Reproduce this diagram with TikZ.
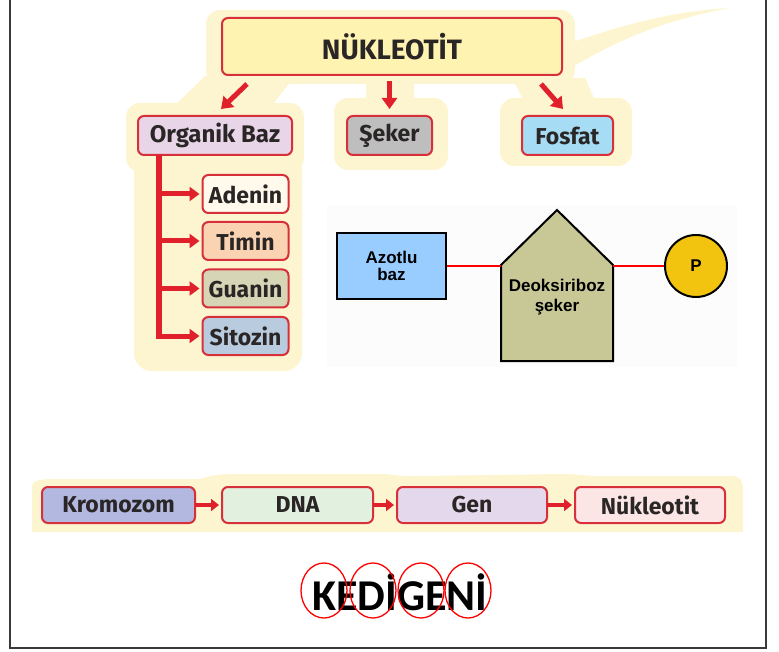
\documentclass[tikz,border=0pt]{standalone}
\usepackage{fontspec}
\setmainfont{Fira Sans}
\newfontfamily\arialfont{Liberation Sans}
\newfontfamily\calfont{Carlito}
\usetikzlibrary{arrows.meta,calc,shapes.geometric}
\definecolor{cream}{HTML}{FDF5D0}
\definecolor{boxred}{HTML}{D7303A}
\definecolor{arrred}{HTML}{E0202A}
\definecolor{txt}{HTML}{2A2626}
\definecolor{nukfill}{HTML}{FFF3B2}
\definecolor{orgfill}{HTML}{E8D5E8}
\definecolor{sekfill}{HTML}{BEBEBE}
\definecolor{fosfill}{HTML}{A6DCF4}
\definecolor{adefill}{HTML}{FFFAEC}
\definecolor{timfill}{HTML}{FAD4B2}
\definecolor{guafill}{HTML}{D6D6B6}
\definecolor{sitfill}{HTML}{B9CBDF}
\definecolor{kromfill}{HTML}{B3B8E0}
\definecolor{dnafill}{HTML}{E2F0E0}
\definecolor{genfill}{HTML}{E4D8EC}
\definecolor{nukbfill}{HTML}{FCE5E5}
\definecolor{azfill}{HTML}{99CCFF}
\definecolor{housefill}{HTML}{C8C896}
\definecolor{pfill}{HTML}{F2C40F}
\definecolor{framegray}{HTML}{3A3A3A}
\tikzset{
  cbox/.style={draw=boxred, line width=2pt, rounded corners=6pt, text=txt,
    inner sep=0pt, font=\bfseries\fontsize{23}{25}\selectfont},
  blob/.style={fill=cream, draw=none},
  bigarr/.style={draw=arrred, line width=5pt, -{Triangle[width=15pt,length=11pt]}},
  brarr/.style={draw=arrred, line width=5pt, -{Triangle[width=14pt,length=10pt]}},
  smarr/.style={draw=arrred, line width=4pt, -{Triangle[width=12pt,length=8pt]}},
  redcon/.style={draw=red, line width=2.5pt},
  blackbox/.style={draw=black, line width=2pt, inner sep=0pt, text=black,
    font=\arialfont\bfseries\fontsize{17}{19}\selectfont, align=center},
  ring/.style={draw=red, line width=1.3pt, ellipse, inner sep=0pt,
    minimum width=46pt, minimum height=55pt}
}
\begin{document}
\begin{tikzpicture}[x=1pt,y=-1pt]
\useasboundingbox (0,0) rectangle (779,652);
% faint backgrounds
\fill[black!1] (327,205) rectangle (737,367);
% cream blobs (top tree)
\fill[blob, rounded corners=14pt] (206,10) rectangle (575,84);
\fill[blob] (560,46) .. controls (610,30) and (660,12) .. (730,8)
   .. controls (680,17) and (625,34) .. (568,70) -- cycle;
\fill[blob] (205,76) -- (292,80) -- (262,118) -- (160,120) -- cycle;
\fill[blob, rounded corners=14pt] (126,103) rectangle (304,172);
\fill[blob, rounded corners=18pt] (134,150) rectangle (302,371);
\fill[blob] (366,78) rectangle (414,110);
\fill[blob, rounded corners=14pt] (334,98) rectangle (448,170);
\fill[blob] (512,78) -- (585,78) -- (600,112) -- (530,112) -- cycle;
\fill[blob, rounded corners=14pt] (500,98) rectangle (632,166);
% cream band (bottom chain)
\fill[blob] (32,532) -- (32,486) .. controls (32,480) and (40,479) .. (60,479)
   -- (200,479) .. controls (210,476) and (215,474) .. (240,474)
   -- (380,474) .. controls (395,474) and (400,477) .. (420,476)
   -- (560,474) .. controls (580,474) and (590,477) .. (610,476)
   -- (730,476) .. controls (740,476) and (743,480) .. (743,490)
   -- (743,532) -- cycle;

% top tree nodes
\node[cbox, fill=nukfill, minimum width=340pt, minimum height=57pt,
  font=\bfseries\fontsize{28}{30}\selectfont] (nuk) at (392,46.5) {NÜKLEOTİT};
\node[cbox, fill=orgfill, minimum width=154pt, minimum height=39pt,
  font=\bfseries\fontsize{24}{26}\selectfont] (org) at (215,135.5) {Organik Baz};
\node[cbox, fill=sekfill, minimum width=85pt, minimum height=39pt] (sek) at (389.5,135.5) {Şeker};
\node[cbox, fill=fosfill, minimum width=91pt, minimum height=39pt] (fos) at (567.5,135.5) {Fosfat};
\node[cbox, fill=adefill, minimum width=86pt, minimum height=38pt] (ade) at (245.5,194) {Adenin};
\node[cbox, fill=timfill, minimum width=86pt, minimum height=38pt] (tim) at (245.5,241) {Timin};
\node[cbox, fill=guafill, minimum width=86pt, minimum height=38pt] (gua) at (245.5,288.5) {Guanin};
\node[cbox, fill=sitfill, minimum width=86pt, minimum height=38pt] (sit) at (245.5,336) {Sitozin};

% top arrows
\draw[bigarr] ([xshift=26pt,yshift=-8pt]nuk.south west) -- ([xshift=84pt,yshift=6pt]org.north west);
\draw[bigarr] ([yshift=-5pt]nuk.south -| sek.north) -- ([yshift=6pt]sek.north);
\draw[bigarr] ([xshift=-22pt,yshift=-8pt]nuk.south east) -- ([xshift=42pt,yshift=6pt]fos.north west);

% branch
\coordinate (trunk) at ([xshift=-56pt]org.south);
\draw[draw=arrred, line width=6pt] ([yshift=1pt]trunk) -- ($(trunk |- sit.west)+(0,3)$);
\draw[brarr] (trunk |- ade.west) -- ([xshift=-2pt]ade.west);
\draw[brarr] (trunk |- tim.west) -- ([xshift=-2pt]tim.west);
\draw[brarr] (trunk |- gua.west) -- ([xshift=-2pt]gua.west);
\draw[brarr] (trunk |- sit.west) -- ([xshift=-2pt]sit.west);

% right diagram
\node[blackbox, fill=azfill, minimum width=109pt, minimum height=66pt] (azot) at (391.5,266) {Azotlu\\[-2pt]baz};
\fill[housefill, draw=black, line width=2pt, line join=miter]
  (501,265) -- (557,210) -- (613,265) -- (613,361) -- (501,361) -- cycle;
\node[minimum width=112pt, minimum height=96pt, inner sep=0pt] (house) at (557,313) {};
\node[font=\arialfont\bfseries\fontsize{17}{20}\selectfont, align=center, text=black] (deo) at (557,297) {Deoksiriboz\\şeker};
\node[blackbox, circle, fill=pfill, minimum size=62pt] (pc) at (696,266) {P};
\draw[redcon] (azot.east) -- (azot.east -| house.west);
\draw[redcon] (house.east |- pc.west) -- (pc.west);

% bottom chain
\node[cbox, fill=kromfill, minimum width=153pt, minimum height=36pt] (krom) at (118.5,505) {Kromozom};
\node[cbox, fill=dnafill, minimum width=151pt, minimum height=36pt] (dna) at (297.5,505) {DNA};
\node[cbox, fill=genfill, minimum width=150pt, minimum height=36pt] (gen) at (472,505) {Gen};
\node[cbox, fill=nukbfill, minimum width=150pt, minimum height=36pt] (nukb) at (650,505) {Nükleotit};
\draw[smarr] ([xshift=-1pt]krom.east) -- ([xshift=-2pt]dna.west);
\draw[smarr] ([xshift=-1pt]dna.east) -- ([xshift=-2pt]gen.west);
\draw[smarr] ([xshift=-1pt]gen.east) -- ([xshift=-2pt]nukb.west);

% KEDİGENİ
\node[font=\calfont\bfseries\fontsize{44}{48}\selectfont, text=black, inner sep=0pt] (word) at (400,592) {KEDİGENİ};
\node[ring] (r1) at (324,590.5) {};
\node[ring] (r2) at (373,590.5) {};
\node[ring] (r3) at (421,590.5) {};
\node[ring] (r4) at (468,590.5) {};

% frame
\draw[framegray, line width=1.6pt] (10,0) -- (10,648) -- (766,648) -- (766,0);
\end{tikzpicture}
\end{document}
